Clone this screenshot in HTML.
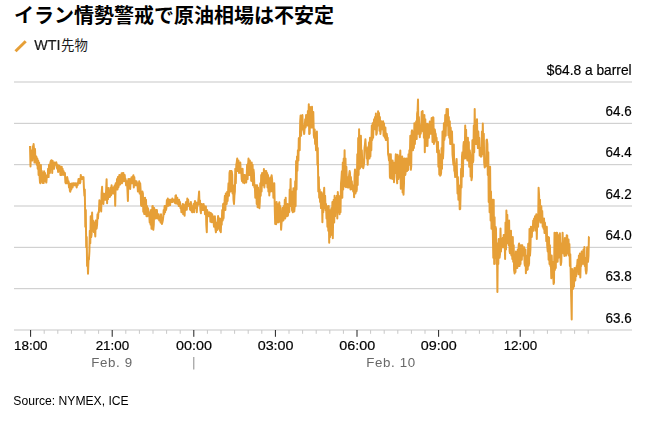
<!DOCTYPE html>
<html lang="ja"><head><meta charset="utf-8"><title>イラン情勢警戒で原油相場は不安定</title>
<style>
html,body{margin:0;padding:0;background:#fff;}
body{width:648px;height:421px;overflow:hidden;font-family:"Liberation Sans",sans-serif;}
svg{display:block;font-family:"Liberation Sans",sans-serif;}
</style></head><body>
<svg width="648" height="421" viewBox="0 0 648 421" role="img" aria-label="イラン情勢警戒で原油相場は不安定 WTI先物">
<title>イラン情勢警戒で原油相場は不安定</title>
<desc>WTI先物 Source: NYMEX, ICE</desc>
<rect width="648" height="421" fill="#fff"/>
<text x="14" y="23" font-size="20" font-weight="bold" fill="#000" style="font-family:'Liberation Sans','Noto Sans CJK JP',sans-serif">イラン情勢警戒で原油相場は不安定</text>
<line x1="15.50" y1="51.20" x2="25.70" y2="41.25" stroke="#E69F37" stroke-width="3.00"/>
<text x="61" y="50" font-size="13.4" fill="#1a1a1a" style="font-family:'Liberation Sans','Noto Sans CJK JP',sans-serif">先物</text>
<rect x="14" y="81.50" width="618" height="1" fill="#c8c8c8"/>
<rect x="14" y="122.83" width="618" height="1" fill="#c8c8c8"/>
<rect x="14" y="164.17" width="618" height="1" fill="#c8c8c8"/>
<rect x="14" y="205.50" width="618" height="1" fill="#c8c8c8"/>
<rect x="14" y="246.83" width="618" height="1" fill="#c8c8c8"/>
<rect x="14" y="288.17" width="618" height="1" fill="#c8c8c8"/>
<rect x="14" y="329.50" width="618" height="1" fill="#c8c8c8"/>
<rect x="43.70" y="330.00" width="1" height="3.80" fill="#c8c8c8"/>
<rect x="57.30" y="330.00" width="1" height="3.80" fill="#c8c8c8"/>
<rect x="70.90" y="330.00" width="1" height="3.80" fill="#c8c8c8"/>
<rect x="84.50" y="330.00" width="1" height="3.80" fill="#c8c8c8"/>
<rect x="98.10" y="330.00" width="1" height="3.80" fill="#c8c8c8"/>
<rect x="125.30" y="330.00" width="1" height="3.80" fill="#c8c8c8"/>
<rect x="138.90" y="330.00" width="1" height="3.80" fill="#c8c8c8"/>
<rect x="152.50" y="330.00" width="1" height="3.80" fill="#c8c8c8"/>
<rect x="166.10" y="330.00" width="1" height="3.80" fill="#c8c8c8"/>
<rect x="179.70" y="330.00" width="1" height="3.80" fill="#c8c8c8"/>
<rect x="206.90" y="330.00" width="1" height="3.80" fill="#c8c8c8"/>
<rect x="220.50" y="330.00" width="1" height="3.80" fill="#c8c8c8"/>
<rect x="234.10" y="330.00" width="1" height="3.80" fill="#c8c8c8"/>
<rect x="247.70" y="330.00" width="1" height="3.80" fill="#c8c8c8"/>
<rect x="261.30" y="330.00" width="1" height="3.80" fill="#c8c8c8"/>
<rect x="288.50" y="330.00" width="1" height="3.80" fill="#c8c8c8"/>
<rect x="302.10" y="330.00" width="1" height="3.80" fill="#c8c8c8"/>
<rect x="315.70" y="330.00" width="1" height="3.80" fill="#c8c8c8"/>
<rect x="329.30" y="330.00" width="1" height="3.80" fill="#c8c8c8"/>
<rect x="342.90" y="330.00" width="1" height="3.80" fill="#c8c8c8"/>
<rect x="370.10" y="330.00" width="1" height="3.80" fill="#c8c8c8"/>
<rect x="383.70" y="330.00" width="1" height="3.80" fill="#c8c8c8"/>
<rect x="397.30" y="330.00" width="1" height="3.80" fill="#c8c8c8"/>
<rect x="410.90" y="330.00" width="1" height="3.80" fill="#c8c8c8"/>
<rect x="424.50" y="330.00" width="1" height="3.80" fill="#c8c8c8"/>
<rect x="451.70" y="330.00" width="1" height="3.80" fill="#c8c8c8"/>
<rect x="465.30" y="330.00" width="1" height="3.80" fill="#c8c8c8"/>
<rect x="478.90" y="330.00" width="1" height="3.80" fill="#c8c8c8"/>
<rect x="492.50" y="330.00" width="1" height="3.80" fill="#c8c8c8"/>
<rect x="506.10" y="330.00" width="1" height="3.80" fill="#c8c8c8"/>
<rect x="533.30" y="330.00" width="1" height="3.80" fill="#c8c8c8"/>
<rect x="546.90" y="330.00" width="1" height="3.80" fill="#c8c8c8"/>
<rect x="560.50" y="330.00" width="1" height="3.80" fill="#c8c8c8"/>
<rect x="574.10" y="330.00" width="1" height="3.80" fill="#c8c8c8"/>
<rect x="587.70" y="330.00" width="1" height="3.80" fill="#c8c8c8"/>
<rect x="30.10" y="330.00" width="1" height="6.80" fill="#222"/>
<rect x="111.70" y="330.00" width="1" height="6.80" fill="#222"/>
<rect x="193.30" y="330.00" width="1" height="6.80" fill="#222"/>
<rect x="274.90" y="330.00" width="1" height="6.80" fill="#222"/>
<rect x="356.50" y="330.00" width="1" height="6.80" fill="#222"/>
<rect x="438.10" y="330.00" width="1" height="6.80" fill="#222"/>
<rect x="519.70" y="330.00" width="1" height="6.80" fill="#222"/>
<rect x="193.30" y="357" width="1" height="12.5" fill="#8a8a8a"/>
<g style="filter:grayscale(1)"><text transform="translate(34.20 50.00) scale(0.972 1)" font-size="14.80" stroke="#1a1a1a" stroke-width="0.20" fill="#1a1a1a">WTI</text><text transform="translate(631.65 74.60) scale(0.990 1)" font-size="13.90" text-anchor="end" stroke="#000" stroke-width="0.20" fill="#000">$64.8 a barrel</text><text transform="translate(631.65 115.83) scale(0.968 1)" font-size="13.85" text-anchor="end" stroke="#000" stroke-width="0.20" fill="#000">64.6</text><text transform="translate(631.65 157.17) scale(0.968 1)" font-size="13.85" text-anchor="end" stroke="#000" stroke-width="0.20" fill="#000">64.4</text><text transform="translate(631.65 198.50) scale(0.968 1)" font-size="13.85" text-anchor="end" stroke="#000" stroke-width="0.20" fill="#000">64.2</text><text transform="translate(631.65 239.83) scale(0.968 1)" font-size="13.85" text-anchor="end" stroke="#000" stroke-width="0.20" fill="#000">64.0</text><text transform="translate(631.65 281.17) scale(0.968 1)" font-size="13.85" text-anchor="end" stroke="#000" stroke-width="0.20" fill="#000">63.8</text><text transform="translate(631.65 322.50) scale(0.968 1)" font-size="13.85" text-anchor="end" stroke="#000" stroke-width="0.20" fill="#000">63.6</text><text transform="translate(30.80 349.50) scale(0.986 1)" font-size="13.60" text-anchor="middle" stroke="#000" stroke-width="0.20" fill="#000">18:00</text><text transform="translate(112.40 349.50) scale(0.986 1)" font-size="13.60" text-anchor="middle" stroke="#000" stroke-width="0.20" fill="#000">21:00</text><text transform="translate(194.00 349.50) scale(1.054 1)" font-size="13.60" text-anchor="middle" stroke="#000" stroke-width="0.20" fill="#000">00:00</text><text transform="translate(275.60 349.50) scale(1.054 1)" font-size="13.60" text-anchor="middle" stroke="#000" stroke-width="0.20" fill="#000">03:00</text><text transform="translate(357.20 349.50) scale(1.054 1)" font-size="13.60" text-anchor="middle" stroke="#000" stroke-width="0.20" fill="#000">06:00</text><text transform="translate(438.80 349.50) scale(1.054 1)" font-size="13.60" text-anchor="middle" stroke="#000" stroke-width="0.20" fill="#000">09:00</text><text transform="translate(520.40 349.50) scale(0.986 1)" font-size="13.60" text-anchor="middle" stroke="#000" stroke-width="0.20" fill="#000">12:00</text><text x="112.00" y="366.50" font-size="13.30" letter-spacing="0.60" text-anchor="middle" fill="#686868">Feb. 9</text><text x="391.00" y="366.50" font-size="13.30" letter-spacing="0.60" text-anchor="middle" fill="#686868">Feb. 10</text><text x="13.30" y="405.00" font-size="12.15" fill="#000">Source: NYMEX, ICE</text></g>
<path d="M30.0 146.0 L30.5 166.6 L30.9 150.2 L31.4 158.5 L31.8 150.2 L32.3 160.5 L32.7 146.3 L33.2 152.3 L33.6 144.1 L34.1 150.2 L34.5 162.6 L35.0 148.9 L35.4 160.5 L35.9 162.6 L36.3 156.4 L36.8 164.7 L37.3 158.5 L37.7 168.8 L38.2 160.5 L38.6 175.0 L39.1 162.6 L39.5 175.0 L40.0 182.6 L40.4 183.2 L40.9 165.0 L41.3 181.2 L41.8 170.9 L42.2 181.2 L42.7 183.1 L43.1 172.9 L43.6 183.1 L44.1 171.2 L44.5 177.1 L45.0 172.9 L45.4 181.2 L45.9 177.1 L46.3 182.6 L46.8 177.1 L47.2 175.0 L47.7 177.1 L48.1 168.8 L48.6 177.1 L49.0 164.7 L49.5 166.7 L49.9 172.9 L50.4 162.6 L50.9 160.9 L51.3 160.3 L51.8 160.5 L52.2 172.9 L52.7 160.9 L53.1 168.8 L53.6 162.6 L54.0 168.8 L54.5 162.6 L54.9 162.6 L55.4 164.7 L55.8 162.6 L56.3 162.4 L56.7 166.7 L57.2 168.8 L57.7 164.7 L58.1 171.9 L58.6 166.7 L59.0 170.9 L59.5 165.7 L59.9 166.7 L60.4 175.0 L60.8 168.8 L61.3 175.0 L61.7 166.7 L62.2 172.9 L62.6 168.8 L63.1 175.0 L63.5 170.9 L64.0 172.9 L64.5 172.9 L64.9 172.9 L65.4 182.4 L65.8 183.3 L66.3 179.1 L66.7 183.3 L67.2 177.1 L67.6 179.1 L68.1 183.3 L68.5 181.2 L69.0 187.4 L69.4 183.3 L69.9 191.0 L70.3 191.6 L70.8 184.1 L71.3 189.5 L71.7 183.6 L72.2 187.4 L72.6 187.4 L73.1 183.3 L73.5 183.2 L74.0 185.3 L74.4 185.3 L74.9 183.3 L75.3 185.3 L75.8 183.4 L76.2 185.3 L76.7 187.5 L77.1 183.3 L77.6 185.3 L78.0 183.3 L78.5 179.1 L79.0 181.2 L79.4 179.1 L79.9 183.3 L80.3 182.5 L80.8 174.9 L81.2 179.1 L81.7 177.1 L82.1 179.1 L82.6 177.1 L83.0 179.1 L83.5 177.1 L83.9 187.4 L84.4 195.7 L84.8 189.5 L85.3 226.7 L85.8 210.1 L86.2 247.3 L86.7 237.0 L87.1 265.9 L87.6 257.7 L88.0 273.7 L88.5 259.7 L88.9 259.7 L89.4 251.5 L89.8 230.8 L90.3 243.2 L90.7 216.3 L91.2 237.0 L91.6 234.4 L92.1 212.6 L92.6 230.2 L93.0 220.5 L93.5 230.8 L93.9 232.1 L94.4 222.5 L94.8 230.8 L95.3 236.4 L95.7 220.5 L96.2 226.7 L96.6 228.7 L97.1 224.6 L97.5 214.3 L98.0 218.4 L98.4 212.2 L98.9 212.2 L99.4 200.2 L99.8 210.1 L100.3 201.9 L100.7 201.9 L101.2 211.5 L101.6 193.6 L102.1 186.8 L102.5 201.9 L103.0 193.6 L103.4 203.9 L103.9 193.7 L104.3 199.8 L104.8 194.1 L105.2 193.6 L105.7 199.8 L106.2 188.2 L106.6 179.3 L107.1 203.2 L107.5 189.5 L108.0 199.1 L108.4 187.9 L108.9 195.7 L109.3 191.5 L109.8 197.1 L110.2 195.7 L110.7 187.4 L111.1 195.3 L111.6 185.2 L112.0 191.5 L112.5 187.4 L113.0 193.6 L113.4 187.4 L113.9 193.6 L114.3 187.4 L114.8 185.3 L115.2 205.7 L115.7 183.3 L116.1 189.5 L116.6 189.5 L117.0 179.1 L117.5 189.5 L117.9 177.1 L118.4 187.4 L118.8 185.3 L119.3 175.0 L119.8 175.0 L120.2 184.4 L120.7 175.0 L121.1 181.2 L121.6 173.2 L122.0 183.3 L122.5 175.0 L122.9 173.0 L123.4 172.9 L123.8 181.2 L124.3 179.1 L124.7 175.0 L125.2 181.2 L125.6 179.1 L126.1 185.3 L126.6 185.3 L127.0 181.2 L127.5 191.5 L127.9 201.0 L128.4 179.0 L128.8 181.2 L129.3 185.3 L129.7 179.1 L130.2 189.0 L130.6 181.2 L131.1 183.3 L131.5 177.2 L132.0 183.3 L132.4 183.3 L132.9 177.1 L133.4 175.2 L133.8 187.4 L134.3 177.1 L134.7 183.3 L135.2 185.3 L135.6 181.2 L136.1 185.3 L136.5 181.2 L137.0 183.3 L137.4 183.3 L137.9 191.5 L138.3 185.3 L138.8 191.5 L139.2 181.2 L139.7 193.6 L140.2 183.3 L140.6 189.5 L141.1 205.5 L141.5 206.0 L142.0 193.6 L142.4 191.5 L142.9 193.6 L143.3 211.8 L143.8 197.7 L144.2 213.9 L144.7 208.1 L145.1 197.7 L145.6 214.3 L146.0 199.8 L146.5 216.3 L147.0 206.0 L147.4 216.3 L147.9 208.1 L148.3 210.1 L148.8 212.2 L149.2 214.3 L149.7 222.5 L150.1 212.2 L150.6 224.6 L151.0 210.1 L151.5 228.7 L151.9 228.7 L152.4 206.1 L152.8 206.0 L153.3 229.8 L153.8 224.6 L154.2 208.1 L154.7 214.3 L155.1 210.1 L155.6 218.4 L156.0 210.1 L156.5 216.3 L156.9 210.1 L157.4 218.4 L157.8 214.3 L158.3 218.4 L158.7 214.3 L159.2 220.5 L159.6 218.4 L160.1 216.3 L160.6 222.5 L161.0 214.3 L161.5 222.5 L161.9 224.0 L162.4 222.2 L162.8 220.4 L163.3 216.3 L163.7 210.1 L164.2 214.3 L164.6 206.0 L165.1 212.2 L165.5 206.0 L166.0 210.1 L166.4 208.1 L166.9 199.9 L167.3 206.0 L167.8 198.5 L168.3 205.8 L168.7 205.7 L169.2 199.8 L169.6 199.8 L170.1 205.1 L170.5 199.8 L171.0 201.9 L171.4 199.8 L171.9 201.9 L172.3 198.4 L172.8 201.9 L173.2 199.8 L173.7 199.8 L174.1 199.8 L174.6 201.9 L175.1 203.1 L175.5 195.7 L176.0 195.2 L176.4 203.6 L176.9 201.9 L177.3 197.7 L177.8 203.9 L178.2 199.8 L178.7 206.0 L179.1 199.8 L179.6 206.0 L180.0 201.9 L180.5 208.1 L180.9 206.0 L181.4 212.2 L181.9 206.0 L182.3 212.2 L182.8 203.9 L183.2 214.3 L183.7 204.4 L184.1 212.2 L184.6 215.7 L185.0 208.1 L185.5 210.1 L185.9 202.3 L186.4 201.9 L186.8 209.7 L187.3 198.5 L187.7 201.9 L188.2 199.8 L188.7 206.0 L189.1 206.0 L189.6 203.9 L190.0 209.4 L190.5 210.0 L190.9 201.9 L191.4 210.1 L191.8 211.8 L192.3 212.3 L192.7 206.0 L193.2 210.1 L193.6 203.9 L194.1 212.2 L194.5 203.9 L195.0 201.0 L195.5 201.9 L195.9 208.1 L196.4 206.0 L196.8 212.3 L197.3 202.8 L197.7 206.0 L198.2 201.9 L198.6 197.9 L199.1 191.5 L199.5 203.9 L200.0 200.4 L200.4 210.1 L200.9 213.2 L201.3 203.9 L201.8 203.9 L202.3 210.1 L202.7 208.1 L203.2 210.1 L203.6 203.9 L204.1 210.1 L204.5 206.0 L205.0 214.3 L205.4 208.1 L205.9 206.4 L206.3 224.6 L206.8 232.3 L207.2 210.1 L207.7 216.3 L208.1 212.2 L208.6 214.3 L209.1 212.2 L209.5 216.3 L210.0 212.7 L210.4 221.7 L210.9 213.1 L211.3 214.3 L211.8 222.3 L212.2 214.3 L212.7 220.5 L213.1 216.3 L213.6 222.5 L214.0 226.7 L214.5 226.7 L214.9 216.3 L215.4 228.7 L215.9 232.3 L216.3 228.7 L216.8 222.5 L217.2 230.0 L217.7 220.5 L218.1 216.0 L218.6 220.5 L219.0 228.7 L219.5 218.4 L219.9 230.8 L220.4 220.5 L220.8 232.3 L221.3 218.4 L221.7 224.6 L222.2 210.1 L222.7 220.5 L223.1 203.9 L223.6 218.4 L224.0 203.9 L224.5 201.9 L224.9 195.7 L225.4 210.1 L225.8 193.6 L226.3 193.6 L226.7 203.9 L227.2 191.7 L227.6 200.9 L228.1 191.5 L228.5 183.3 L229.0 195.7 L229.5 172.9 L229.9 171.0 L230.4 170.9 L230.8 191.5 L231.3 170.9 L231.7 171.2 L232.2 175.0 L232.6 193.6 L233.1 185.3 L233.5 199.8 L234.0 204.0 L234.4 195.7 L234.9 191.5 L235.3 168.8 L235.8 183.3 L236.3 164.7 L236.7 162.6 L237.2 158.5 L237.6 170.9 L238.1 160.5 L238.5 160.5 L239.0 172.9 L239.4 162.6 L239.9 168.8 L240.3 162.6 L240.8 172.9 L241.2 168.8 L241.7 179.1 L242.1 181.2 L242.6 168.8 L243.1 182.6 L243.5 181.2 L244.0 175.0 L244.4 183.2 L244.9 175.0 L245.3 181.2 L245.8 179.1 L246.2 182.4 L246.7 177.1 L247.1 164.7 L247.6 179.1 L248.0 166.7 L248.5 158.5 L248.9 162.6 L249.4 175.0 L249.9 160.5 L250.3 175.0 L250.8 164.7 L251.2 180.8 L251.7 162.6 L252.1 181.2 L252.6 164.7 L253.0 185.3 L253.5 169.5 L253.9 172.9 L254.4 187.4 L254.8 185.3 L255.3 197.7 L255.7 185.3 L256.2 185.3 L256.7 203.9 L257.1 185.3 L257.6 207.3 L258.0 187.4 L258.5 199.8 L258.9 197.7 L259.4 208.2 L259.8 201.9 L260.3 183.3 L260.7 195.7 L261.2 175.0 L261.6 191.5 L262.1 172.9 L262.5 185.3 L263.0 172.9 L263.4 185.3 L263.9 169.0 L264.4 187.4 L264.8 172.9 L265.3 183.3 L265.7 170.9 L266.2 170.9 L266.6 183.3 L267.1 172.9 L267.5 187.4 L268.0 175.1 L268.4 191.5 L268.9 179.1 L269.3 195.4 L269.8 183.3 L270.2 177.5 L270.7 191.5 L271.2 183.3 L271.6 175.2 L272.1 179.1 L272.5 191.5 L273.0 183.3 L273.4 197.7 L273.9 195.7 L274.3 183.3 L274.8 210.1 L275.2 224.0 L275.7 212.2 L276.1 224.2 L276.6 201.9 L277.0 214.3 L277.5 203.9 L278.0 222.5 L278.4 203.9 L278.9 222.0 L279.3 202.2 L279.8 216.3 L280.2 206.0 L280.7 218.4 L281.1 229.8 L281.6 222.5 L282.0 220.5 L282.5 208.1 L282.9 218.4 L283.4 220.5 L283.8 206.0 L284.3 218.4 L284.8 199.8 L285.2 218.4 L285.7 197.7 L286.1 216.3 L286.6 206.0 L287.0 216.3 L287.5 203.9 L287.9 215.7 L288.4 212.2 L288.8 208.1 L289.3 211.9 L289.7 189.5 L290.2 199.8 L290.6 179.0 L291.1 206.0 L291.6 191.5 L292.0 210.1 L292.5 211.5 L292.9 212.2 L293.4 188.3 L293.8 191.5 L294.3 211.5 L294.7 206.0 L295.2 181.2 L295.6 206.0 L296.1 161.1 L296.5 189.5 L297.0 156.4 L297.4 170.7 L297.9 150.2 L298.4 160.5 L298.8 138.2 L299.3 137.8 L299.7 150.2 L300.2 121.3 L300.6 115.6 L301.1 135.7 L301.5 117.1 L302.0 127.5 L302.4 115.1 L302.9 129.5 L303.3 125.4 L303.8 131.6 L304.2 134.0 L304.7 127.5 L305.2 119.2 L305.6 127.5 L306.1 115.1 L306.5 123.3 L307.0 115.1 L307.4 125.4 L307.9 110.9 L308.3 123.3 L308.8 104.3 L309.2 134.0 L309.7 133.5 L310.1 106.9 L310.6 110.9 L311.0 127.5 L311.5 119.2 L312.0 106.8 L312.4 127.5 L312.9 117.1 L313.3 111.9 L313.8 135.0 L314.2 137.8 L314.7 129.5 L315.1 143.9 L315.6 133.7 L316.0 150.2 L316.5 135.7 L316.9 131.6 L317.4 164.7 L317.8 148.1 L318.3 191.5 L318.8 177.1 L319.2 197.7 L319.7 189.5 L320.1 201.9 L320.6 197.7 L321.0 208.1 L321.5 192.2 L321.9 194.3 L322.4 222.3 L322.8 199.8 L323.3 212.2 L323.7 195.7 L324.2 187.7 L324.6 208.1 L325.1 195.7 L325.6 210.1 L326.0 203.9 L326.5 218.4 L326.9 206.0 L327.4 226.7 L327.8 210.1 L328.3 230.8 L328.7 206.0 L329.2 242.7 L329.6 210.1 L330.1 237.0 L330.5 212.2 L331.0 234.9 L331.4 208.1 L331.9 232.9 L332.4 201.9 L332.8 238.2 L333.3 208.1 L333.7 199.8 L334.2 222.5 L334.6 195.7 L335.1 216.3 L335.5 197.7 L336.0 212.2 L336.4 212.2 L336.9 195.7 L337.3 218.4 L337.8 192.1 L338.2 197.7 L338.7 212.2 L339.2 199.8 L339.6 214.3 L340.1 195.7 L340.5 212.2 L341.0 183.3 L341.4 179.1 L341.9 171.2 L342.3 197.7 L342.8 162.6 L343.2 189.4 L343.7 158.5 L344.1 179.1 L344.6 150.2 L345.0 186.5 L345.5 158.5 L346.0 187.3 L346.4 166.7 L346.9 185.3 L347.3 179.1 L347.8 187.4 L348.2 177.1 L348.7 187.4 L349.1 175.0 L349.6 171.0 L350.0 172.9 L350.5 189.5 L350.9 177.1 L351.4 187.4 L351.8 181.2 L352.3 189.5 L352.7 185.3 L353.2 191.5 L353.7 185.3 L354.1 197.3 L354.6 175.0 L355.0 169.5 L355.5 193.6 L355.9 172.9 L356.4 191.5 L356.8 189.5 L357.3 154.3 L357.7 184.9 L358.2 138.1 L358.6 175.0 L359.1 129.3 L359.5 168.8 L360.0 168.3 L360.5 156.4 L360.9 135.7 L361.4 166.7 L361.8 150.2 L362.3 162.6 L362.7 164.7 L363.2 168.2 L363.6 166.3 L364.1 162.6 L364.5 148.1 L365.0 144.0 L365.4 139.3 L365.9 148.1 L366.3 148.1 L366.8 158.5 L367.3 156.4 L367.7 164.8 L368.2 147.0 L368.6 150.2 L369.1 142.2 L369.5 158.5 L370.0 137.8 L370.4 156.4 L370.9 137.8 L371.3 150.2 L371.8 125.4 L372.2 139.9 L372.7 123.3 L373.1 137.8 L373.6 125.4 L374.1 119.2 L374.5 125.4 L375.0 117.1 L375.4 129.5 L375.9 113.6 L376.3 134.8 L376.8 133.1 L377.2 117.1 L377.7 125.4 L378.1 111.3 L378.6 121.3 L379.0 113.1 L379.5 130.8 L379.9 117.1 L380.4 134.0 L380.9 129.5 L381.3 121.3 L381.8 125.4 L382.2 123.3 L382.7 129.5 L383.1 121.3 L383.6 135.7 L384.0 123.3 L384.5 135.7 L384.9 137.8 L385.4 127.5 L385.8 139.9 L386.3 139.9 L386.7 133.7 L387.2 137.8 L387.7 137.8 L388.1 154.3 L388.6 156.4 L389.0 160.5 L389.5 154.3 L389.9 177.1 L390.4 178.3 L390.8 154.3 L391.3 175.0 L391.7 178.6 L392.2 175.0 L392.6 160.5 L393.1 179.1 L393.5 162.6 L394.0 182.3 L394.5 164.7 L394.9 172.9 L395.4 162.6 L395.8 154.3 L396.3 158.5 L396.7 177.1 L397.2 183.3 L397.6 154.7 L398.1 160.5 L398.5 179.1 L399.0 156.4 L399.4 177.1 L399.9 160.5 L400.3 150.5 L400.8 188.7 L401.3 158.5 L401.7 187.4 L402.2 156.4 L402.6 192.6 L403.1 158.5 L403.5 194.8 L404.0 183.3 L404.4 158.5 L404.9 158.5 L405.3 175.0 L405.8 170.9 L406.2 170.9 L406.7 158.5 L407.1 170.9 L407.6 160.5 L408.1 170.0 L408.5 154.3 L409.0 164.7 L409.4 150.2 L409.9 156.4 L410.3 135.7 L410.8 169.8 L411.2 166.7 L411.7 131.6 L412.1 130.4 L412.6 133.7 L413.0 150.2 L413.5 135.7 L413.9 148.1 L414.4 123.3 L414.9 144.0 L415.3 127.5 L415.8 137.8 L416.2 121.3 L416.7 139.0 L417.1 113.7 L417.6 110.9 L418.0 99.6 L418.5 133.7 L418.9 117.1 L419.4 131.6 L419.8 137.3 L420.3 125.4 L420.7 133.7 L421.2 129.5 L421.7 111.8 L422.1 129.5 L422.6 111.0 L423.0 131.4 L423.5 115.1 L423.9 137.8 L424.4 115.1 L424.8 152.3 L425.3 119.2 L425.7 146.1 L426.2 139.9 L426.6 141.9 L427.1 123.8 L427.5 146.1 L428.0 124.3 L428.5 125.4 L428.9 137.8 L429.4 127.5 L429.8 121.5 L430.3 133.7 L430.7 123.3 L431.2 133.7 L431.6 118.1 L432.1 117.8 L432.5 141.9 L433.0 117.2 L433.4 117.7 L433.9 144.0 L434.3 137.8 L434.8 129.5 L435.3 133.7 L435.7 133.7 L436.2 141.9 L436.6 137.8 L437.1 152.3 L437.5 144.0 L438.0 141.9 L438.4 166.7 L438.9 150.2 L439.3 174.5 L439.8 154.3 L440.2 175.7 L440.7 175.0 L441.1 172.9 L441.6 148.1 L442.0 168.8 L442.5 131.6 L443.0 158.5 L443.4 150.2 L443.9 123.3 L444.3 139.9 L444.8 135.7 L445.2 115.1 L445.7 135.7 L446.1 119.2 L446.6 109.1 L447.0 115.1 L447.5 125.4 L447.9 109.0 L448.4 135.3 L448.8 117.1 L449.3 137.8 L449.8 121.3 L450.2 144.0 L450.7 127.5 L451.1 144.0 L451.6 133.7 L452.0 131.6 L452.5 154.3 L452.9 158.5 L453.4 164.7 L453.8 144.5 L454.3 170.9 L454.7 170.9 L455.2 177.1 L455.6 175.0 L456.1 164.7 L456.6 158.9 L457.0 172.9 L457.5 193.6 L457.9 177.1 L458.4 199.8 L458.8 185.3 L459.3 187.4 L459.7 209.2 L460.2 209.0 L460.6 193.6 L461.1 168.8 L461.5 187.4 L462.0 156.4 L462.4 152.3 L462.9 176.4 L463.4 146.1 L463.8 141.9 L464.3 156.4 L464.7 158.5 L465.2 125.6 L465.6 154.3 L466.1 129.7 L466.5 158.5 L467.0 137.8 L467.4 160.5 L467.9 137.8 L468.3 160.5 L468.8 141.9 L469.2 166.7 L469.7 150.2 L470.2 154.3 L470.6 176.4 L471.1 158.5 L471.5 180.2 L472.0 177.1 L472.4 140.2 L472.9 162.6 L473.3 160.5 L473.8 125.4 L474.2 152.3 L474.7 109.1 L475.1 137.8 L475.6 127.5 L476.0 144.0 L476.5 123.3 L477.0 119.2 L477.4 139.9 L477.9 148.1 L478.3 131.6 L478.8 146.1 L479.2 137.8 L479.7 155.6 L480.1 152.3 L480.6 148.1 L481.0 156.7 L481.5 156.4 L481.9 131.6 L482.4 154.3 L482.8 123.4 L483.3 152.3 L483.8 133.7 L484.2 162.6 L484.7 167.4 L485.1 162.6 L485.6 166.4 L486.0 164.7 L486.5 140.0 L486.9 139.5 L487.4 144.0 L487.8 175.0 L488.3 152.3 L488.7 201.9 L489.2 168.8 L489.6 212.2 L490.1 166.7 L490.6 220.5 L491.0 191.5 L491.5 228.7 L491.9 226.7 L492.4 199.8 L492.8 230.8 L493.3 257.7 L493.7 199.8 L494.2 263.9 L494.6 217.3 L495.1 257.7 L495.5 226.7 L496.0 228.7 L496.4 263.9 L496.9 243.2 L497.4 291.9 L497.8 251.5 L498.3 263.9 L498.7 239.1 L499.2 251.5 L499.6 257.7 L500.1 253.5 L500.5 228.5 L501.0 251.5 L501.4 241.1 L501.9 239.1 L502.3 247.3 L502.8 237.8 L503.2 247.3 L503.7 234.9 L504.2 234.9 L504.6 237.0 L505.1 259.0 L505.5 222.5 L506.0 249.4 L506.4 210.5 L506.9 239.1 L507.3 214.8 L507.8 243.2 L508.2 220.5 L508.7 245.3 L509.1 220.5 L509.6 251.3 L510.0 253.2 L510.5 253.5 L511.0 230.8 L511.4 255.6 L511.9 239.1 L512.3 258.9 L512.8 237.0 L513.2 261.8 L513.7 245.3 L514.1 270.1 L514.6 273.4 L515.0 268.0 L515.5 272.1 L515.9 251.5 L516.4 265.9 L516.8 253.5 L517.3 268.0 L517.8 249.4 L518.2 265.9 L518.7 245.3 L519.1 243.5 L519.6 265.9 L520.0 245.3 L520.5 263.9 L520.9 247.3 L521.4 245.3 L521.8 259.7 L522.3 245.3 L522.7 255.6 L523.2 255.6 L523.6 255.6 L524.1 247.3 L524.6 263.9 L525.0 265.9 L525.5 249.4 L525.9 273.3 L526.4 255.6 L526.8 270.1 L527.3 255.6 L527.7 269.4 L528.2 243.7 L528.6 265.9 L529.1 263.4 L529.5 229.1 L530.0 255.6 L530.4 249.4 L530.9 226.7 L531.3 234.9 L531.8 237.0 L532.3 226.7 L532.7 230.8 L533.2 220.5 L533.6 230.8 L534.1 218.4 L534.5 226.7 L535.0 216.3 L535.4 222.5 L535.9 230.8 L536.3 214.3 L536.8 239.0 L537.2 218.4 L537.7 226.7 L538.1 226.7 L538.6 187.7 L539.1 195.7 L539.5 220.5 L540.0 199.8 L540.4 222.5 L540.9 218.4 L541.3 206.2 L541.8 222.5 L542.2 210.9 L542.7 226.7 L543.1 220.5 L543.6 228.7 L544.0 218.4 L544.5 232.9 L544.9 222.5 L545.4 228.7 L545.9 226.7 L546.3 241.1 L546.8 226.7 L547.2 245.3 L547.7 251.5 L548.1 237.0 L548.6 259.7 L549.0 237.5 L549.5 263.9 L549.9 245.3 L550.4 265.9 L550.8 259.7 L551.3 278.3 L551.7 255.6 L552.2 272.1 L552.7 261.8 L553.1 272.1 L553.6 283.9 L554.0 282.5 L554.5 232.7 L554.9 270.1 L555.4 232.9 L555.8 268.0 L556.3 232.9 L556.7 232.7 L557.2 232.9 L557.6 261.8 L558.1 234.9 L558.5 257.7 L559.0 237.0 L559.5 247.3 L559.9 233.2 L560.4 257.7 L560.8 265.0 L561.3 261.8 L561.7 243.2 L562.2 251.5 L562.6 232.7 L563.1 251.5 L563.5 253.5 L564.0 243.2 L564.4 256.0 L564.9 238.0 L565.3 255.6 L565.8 243.2 L566.3 255.6 L566.7 235.2 L567.2 235.6 L567.6 253.5 L568.1 253.5 L568.5 239.4 L569.0 255.6 L569.4 243.9 L569.9 265.9 L570.3 254.3 L570.8 278.3 L571.2 296.9 L571.7 319.5 L572.1 269.0 L572.6 272.1 L573.1 288.7 L573.5 276.3 L574.0 286.6 L574.4 268.2 L574.9 268.0 L575.3 280.4 L575.8 268.0 L576.2 276.3 L576.7 265.9 L577.1 265.9 L577.6 259.7 L578.0 261.8 L578.5 274.2 L578.9 255.6 L579.4 274.2 L579.9 253.5 L580.3 277.5 L580.8 259.7 L581.2 265.9 L581.7 251.5 L582.1 263.9 L582.6 251.5 L583.0 261.8 L583.5 249.4 L583.9 263.9 L584.4 247.0 L584.8 265.9 L585.3 257.7 L585.7 270.1 L586.2 273.5 L586.7 270.1 L587.1 247.3 L587.6 261.8 L588.0 261.8 L588.5 255.6 L588.9 237.0 L589.4 236.8" fill="none" stroke="#E69F37" stroke-width="2.00" stroke-linejoin="round" stroke-linecap="butt"/>
</svg>
</body></html>
